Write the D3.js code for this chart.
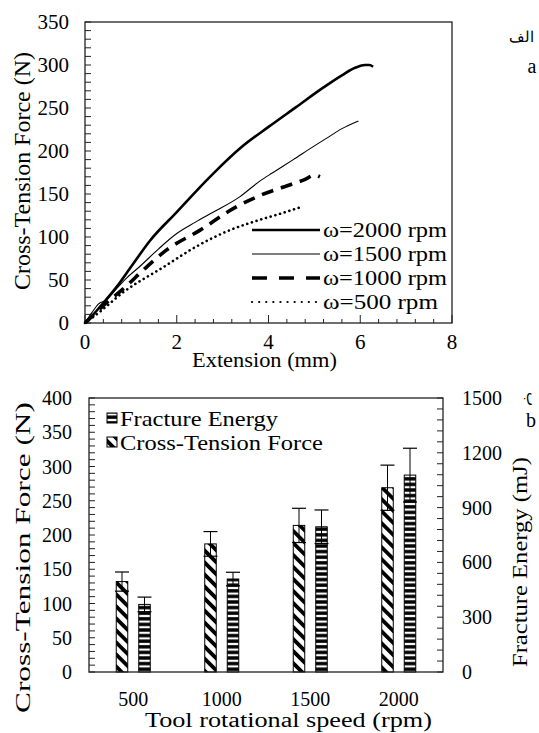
<!DOCTYPE html>
<html><head><meta charset="utf-8">
<script src="https://cdn.jsdelivr.net/npm/d3@7"></script>
</head><body style="margin:0;padding:0;background:#fff">
<svg id="c" width="539" height="733" style="display:block;background:#fff"></svg>
<script>
// ---------- Panel a: force–extension curves ----------
const curveLabels = ["ω=2000 rpm", "ω=1500 rpm", "ω=1000 rpm", "ω=500 rpm"];
const curve2000 = [[0,0],[0.15,8],[0.33,19],[0.69,42],[1.0,65],[1.42,96],[2.0,129],[2.4,152],[2.8,174],[3.4,204],[4.0,228],[4.6,251],[5.2,274],[5.6,288],[5.9,297],[6.1,300],[6.2,300],[6.28,298]];
const curve1500 = [[0,0],[0.15,12],[0.29,22],[0.47,27],[0.62,36],[0.9,52],[1.2,66],[1.6,86],[2.0,104],[2.4,117],[2.8,129],[3.38,147],[3.81,165],[4.1,175],[4.54,190],[5.0,206],[5.27,215],[5.6,226],[5.96,235]];
const curve1000 = [[0,0],[0.2,10],[0.5,25],[0.84,40],[1.3,63],[1.78,85],[2.51,108],[3.23,133],[3.85,149],[4.54,162],[4.8,167],[5.0,172],[5.12,170]];
const curve500  = [[0,0],[0.3,12],[0.84,36],[1.71,65],[2.43,89],[3.16,108],[3.81,120],[4.25,127],[4.72,135]];
const xTicksA = [0, 2, 4, 6, 8];
const yTicksA = [0, 50, 100, 150, 200, 250, 300, 350];

// ---------- Panel b: bars ----------
const speeds = ["500", "1000", "1500", "2000"];
const forceMean  = [132, 187, 214, 269];
const forceErr   = [14, 18, 25, 33];
const energyMean = [370, 509, 795, 1078];
const energyErr  = [40, 37, 92, 147];
const yTicksB  = [0, 50, 100, 150, 200, 250, 300, 350, 400];
const yTicksB2 = [0, 300, 600, 900, 1200, 1500];
const legendB = ["Fracture Energy", "Cross-Tension Force"];

const FONT = "\"Liberation Serif\"";
const svg = d3.select("#c");
function T(){ return svg.append("text").attr("font-family", FONT).attr("fill", "#000"); }
// stretch a text along its own direction to a target width (no textLength)
function fitAt(sel, w, x, y, rot){
  const len = sel.node().getComputedTextLength() || w;
  const k = w / len;
  sel.attr("x", 0).attr("y", 0)
     .attr("transform", `translate(${x},${y}) rotate(${rot || 0}) scale(${k},1)`);
  return sel;
}

// patterns
const defs = svg.append("defs");
const pd = defs.append("pattern").attr("id","diag").attr("patternUnits","userSpaceOnUse")
  .attr("width",8.5).attr("height",8.5).attr("patternTransform","rotate(-45)");
pd.append("rect").attr("width",8.5).attr("height",8.5).attr("fill","#fff");
pd.append("rect").attr("width",3.8).attr("height",8.5).attr("fill","#000");
const ph = defs.append("pattern").attr("id","horiz").attr("patternUnits","userSpaceOnUse")
  .attr("width",10).attr("height",5.6);
ph.append("rect").attr("width",10).attr("height",5.6).attr("fill","#fff");
ph.append("rect").attr("width",10).attr("height",3.4).attr("y",1.1).attr("fill","#000");

// ================= Panel a =================
const A = {l:85, r:452, t:22, b:323};
const xA = d3.scaleLinear().domain([0,8]).range([A.l, A.r]);
const yA = d3.scaleLinear().domain([0,350]).range([A.b, A.t]);
const gA = svg.append("g");

d3.range(0, 350.1, 10).forEach(v => {
  gA.append("line").attr("x1", A.l).attr("x2", A.l + 6).attr("y1", yA(v)).attr("y2", yA(v))
    .attr("stroke", "#222").attr("stroke-width", 1);
});
d3.range(0, 8.01, 0.4).forEach(v => {
  const major = Math.abs(v/2 - Math.round(v/2)) < 1e-6;
  gA.append("line").attr("x1", xA(v)).attr("x2", xA(v)).attr("y1", A.b).attr("y2", A.b - (major ? 8 : 4))
    .attr("stroke", "#222").attr("stroke-width", 1);
});
gA.append("rect").attr("x", A.l).attr("y", A.t).attr("width", A.r - A.l).attr("height", A.b - A.t)
  .attr("fill", "none").attr("stroke", "#222").attr("stroke-width", 1.3);

const lineA = d3.line().x(d => xA(d[0])).y(d => yA(d[1])).curve(d3.curveMonotoneX);
const styles = [
  {data: curve2000, w: 2.6, dash: null, cap: "butt"},
  {data: curve1500, w: 1.1, dash: null, cap: "butt"},
  {data: curve1000, w: 3.6, dash: "12,8", cap: "butt"},
  {data: curve500,  w: 2.6, dash: "0.1,4.8", cap: "round"}
];
styles.forEach(s => {
  gA.append("path").attr("d", lineA(s.data)).attr("fill", "none").attr("stroke", "#000")
    .attr("stroke-width", s.w).attr("stroke-dasharray", s.dash).attr("stroke-linecap", s.cap);
});

const legRows = [230, 254, 278, 302];
const legDash = [null, null, "15,12", "0.1,7"];
const legW = [2.6, 1.1, 3.6, 2.2];
const legTL = [124, 124, 124, 115];
curveLabels.forEach((lab, i) => {
  gA.append("line").attr("x1", 252).attr("x2", 320).attr("y1", legRows[i]).attr("y2", legRows[i])
    .attr("stroke", "#000").attr("stroke-width", legW[i]).attr("stroke-dasharray", legDash[i])
    .attr("stroke-linecap", i === 3 ? "round" : "butt");
});

// ================= Panel b =================
const B = {l:89, r:443, t:398, b:672};
const xB = d3.scaleBand().domain(speeds).range([B.l, B.r]);
const yB = d3.scaleLinear().domain([0,400]).range([B.b, B.t]);
const yB2 = d3.scaleLinear().domain([0,1500]).range([B.b, B.t]);
const gB = svg.append("g");

d3.range(0, 400.1, 10).forEach(v => {
  gB.append("line").attr("x1", B.l).attr("x2", B.l + 6).attr("y1", yB(v)).attr("y2", yB(v))
    .attr("stroke", "#222").attr("stroke-width", 1);
});
d3.range(0, 1500.1, 60).forEach(v => {
  gB.append("line").attr("x1", B.r).attr("x2", B.r - 6).attr("y1", yB2(v)).attr("y2", yB2(v))
    .attr("stroke", "#222").attr("stroke-width", 1);
});

const cx = s => xB(s) + xB.bandwidth() / 2;
const bw = 11.5;
speeds.forEach((s, i) => {
  const c = cx(s);
  const xf = c - 11.25;
  gB.append("rect").attr("x", xf - bw/2).attr("y", yB(forceMean[i])).attr("width", bw)
    .attr("height", yB(0) - yB(forceMean[i])).attr("fill", "url(#diag)").attr("stroke", "#000").attr("stroke-width", 1);
  const xe = c + 11.25;
  gB.append("rect").attr("x", xe - bw/2).attr("y", yB2(energyMean[i])).attr("width", bw)
    .attr("height", yB2(0) - yB2(energyMean[i])).attr("fill", "url(#horiz)").attr("stroke", "#000").attr("stroke-width", 1);
  [[xf, yB(forceMean[i] + forceErr[i]), yB(forceMean[i] - forceErr[i])],
   [xe, yB2(energyMean[i] + energyErr[i]), yB2(energyMean[i] - energyErr[i])]].forEach(([x, y1, y2]) => {
    gB.append("line").attr("x1", x).attr("x2", x).attr("y1", y1).attr("y2", y2).attr("stroke", "#000").attr("stroke-width", 1);
    [y1, y2].forEach(y => gB.append("line").attr("x1", x - 7).attr("x2", x + 7).attr("y1", y).attr("y2", y)
      .attr("stroke", "#000").attr("stroke-width", 1.2));
  });
});

gB.append("rect").attr("x", B.l).attr("y", B.t).attr("width", B.r - B.l).attr("height", B.b - B.t)
  .attr("fill", "none").attr("stroke", "#222").attr("stroke-width", 1.3);

const legBy = [413, 437];
const legBfill = ["url(#horiz)", "url(#diag)"];
const legBtl = [158, 203];
legendB.forEach((lab, i) => {
  gB.append("rect").attr("x", 107).attr("y", legBy[i]).attr("width", 10).attr("height", 10)
    .attr("fill", legBfill[i]).attr("stroke", "#000").attr("stroke-width", 1);
});

// ================= Texts =================
yTicksA.forEach(d => T().attr("x", 69).attr("y", yA(d)).attr("dy", "0.35em").attr("text-anchor", "end")
  .attr("font-size", 21).text(d));
xTicksA.forEach(d => T().attr("x", xA(d)).attr("y", 349).attr("text-anchor", "middle")
  .attr("font-size", 21).text(d));
fitAt(T().attr("font-size", 21).text("Extension (mm)"), 145, 192, 367);
fitAt(T().attr("font-size", 23).text("Cross-Tension Force (N)"), 238, 30, 290, -90);
curveLabels.forEach((lab, i) => {
  fitAt(T().attr("font-size", 20).text(lab), legTL[i], 323, legRows[i] + 7);
});
T().attr("x", 521).attr("y", 42).attr("text-anchor", "middle").attr("font-size", 15).text("الف");
T().attr("x", 532).attr("y", 73).attr("text-anchor", "middle").attr("font-size", 20).text("a");

yTicksB.forEach(d => T().attr("x", 72).attr("y", yB(d)).attr("dy", "0.35em").attr("text-anchor", "end")
  .attr("font-size", 20).text(d));
yTicksB2.forEach(d => T().attr("x", 462).attr("y", yB2(d)).attr("dy", "0.35em").attr("text-anchor", "start")
  .attr("font-size", 20).text(d));
speeds.forEach(d => T().attr("x", cx(d)).attr("y", 706).attr("text-anchor", "middle")
  .attr("font-size", 20).text(d));
fitAt(T().attr("font-size", 20).text("Tool rotational speed (rpm)"), 287, 145, 727);
fitAt(T().attr("font-size", 21).text("Cross-Tension Force (N)"), 311, 30, 713, -90);
fitAt(T().attr("font-size", 21).text("Fracture Energy (mJ)"), 210, 527, 667, -90);
legendB.forEach((lab, i) => {
  fitAt(T().attr("font-size", 20).text(lab), legBtl[i], 120, legBy[i] + 12.5);
});
T().attr("transform", "translate(531,399) rotate(90)").attr("text-anchor", "middle")
  .attr("dy", "0.3em").attr("font-size", 15).text("ب");
T().attr("x", 531).attr("y", 427).attr("text-anchor", "middle").attr("font-size", 20).text("b");
</script>
</body></html>
